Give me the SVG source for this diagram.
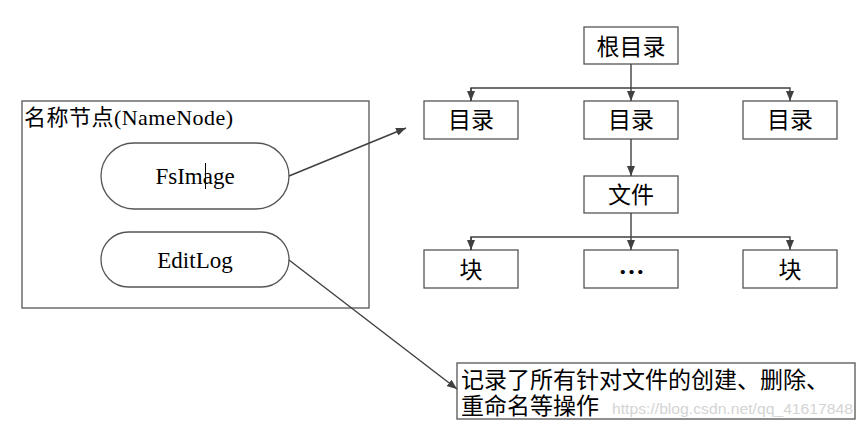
<svg xmlns="http://www.w3.org/2000/svg" width="864" height="428" viewBox="0 0 864 428">
<style>
.box{fill:#fff;stroke:#555;stroke-width:1.3}
.t{font-family:"Liberation Serif","Noto Sans CJK SC",serif;fill:#000}
.c{text-anchor:middle}
.ln{fill:none;stroke:#404040;stroke-width:1.4}
</style>
<defs>
<marker id="ah" markerWidth="10" markerHeight="8" refX="10" refY="4" orient="auto" markerUnits="userSpaceOnUse">
<path d="M0,0 L10,4 L0,8 Z" fill="#404040"/>
</marker>
</defs>
<rect width="864" height="428" fill="#fff"/>
<g id="namenode">
<rect class="box" x="22" y="101" width="347" height="207"/>
<text class="t" x="24" y="125" font-size="22" textLength="209" lengthAdjust="spacing">名称节点(NameNode)</text>
</g>
<g id="fsimage">
<rect class="box" x="101" y="143" width="188" height="66" rx="33"/>
<text class="t c" x="195" y="184" font-size="23">FsImage</text>
<line x1="205.5" y1="163" x2="205.5" y2="189" stroke="#000" stroke-width="1"/>
</g>
<g id="editlog">
<rect class="box" x="101" y="232" width="188" height="55" rx="27.5"/>
<text class="t c" x="195" y="268" font-size="23">EditLog</text>
</g>
<g id="root">
<rect class="box" x="584" y="27" width="94" height="37"/>
<text class="t c" x="631" y="55" font-size="23">根目录</text>
</g>
<g id="dir1">
<rect class="box" x="424" y="101" width="94" height="38"/>
<text class="t c" x="471" y="128" font-size="23">目录</text>
</g>
<g id="dir2">
<rect class="box" x="584" y="101" width="94" height="38"/>
<text class="t c" x="631" y="128" font-size="23">目录</text>
</g>
<g id="dir3">
<rect class="box" x="743" y="101" width="94" height="38"/>
<text class="t c" x="790" y="128" font-size="23">目录</text>
</g>
<g id="file">
<rect class="box" x="584" y="176" width="94" height="37"/>
<text class="t c" x="631" y="203" font-size="23">文件</text>
</g>
<g id="block1">
<rect class="box" x="424" y="250" width="94" height="38"/>
<text class="t c" x="471" y="278" font-size="23">块</text>
</g>
<g id="block2">
<rect class="box" x="584" y="250" width="94" height="38"/>
<text class="t c" x="631" y="274" font-size="26" font-weight="bold" letter-spacing="-1">…</text>
</g>
<g id="block3">
<rect class="box" x="743" y="250" width="94" height="38"/>
<text class="t c" x="790" y="278" font-size="23">块</text>
</g>
<g id="note">
<rect class="box" x="457" y="363" width="398" height="56"/>
<text class="t" x="461" y="388" font-size="23">记录了所有针对文件的创建、删除、</text>
<text class="t" x="461" y="414" font-size="23">重命名等操作</text>
<text x="612" y="414" font-size="15.5" font-family="Liberation Sans,Arial,sans-serif" fill="#d4d4d4" textLength="241" lengthAdjust="spacingAndGlyphs">https://blog.csdn.net/qq_41617848</text>
</g>
<g id="connectors">
<line class="ln" x1="631" y1="64" x2="631" y2="101" marker-end="url(#ah)"/>
<polyline class="ln" points="471,101 471,88 790,88 790,101" marker-end="url(#ah)"/>
<line class="ln" x1="471" y1="88" x2="471" y2="101" marker-end="url(#ah)"/>
<line class="ln" x1="631" y1="139" x2="631" y2="176" marker-end="url(#ah)"/>
<line class="ln" x1="631" y1="213" x2="631" y2="250" marker-end="url(#ah)"/>
<polyline class="ln" points="471,250 471,237 790,237 790,250" marker-end="url(#ah)"/>
<line class="ln" x1="471" y1="237" x2="471" y2="250" marker-end="url(#ah)"/>
<line class="ln" x1="289" y1="176" x2="406" y2="128" marker-end="url(#ah)"/>
<line class="ln" x1="289" y1="260" x2="457" y2="389" marker-end="url(#ah)"/>
</g>
</svg>
